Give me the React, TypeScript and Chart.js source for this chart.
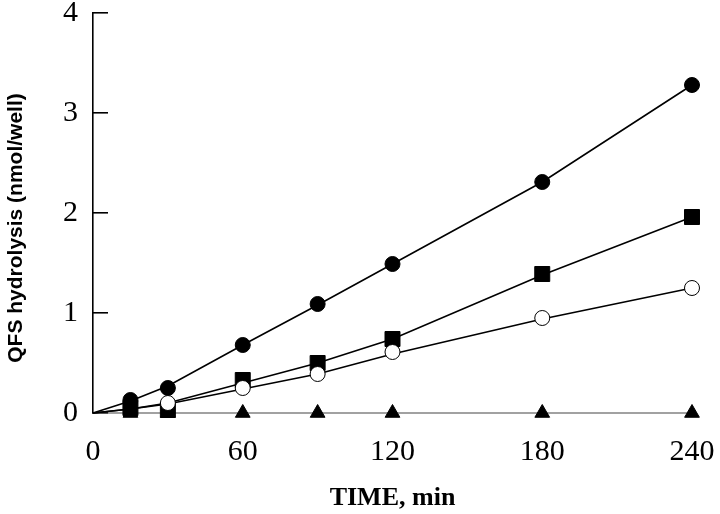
import React, { useEffect, useRef } from "react";
import { Chart, registerables } from "chart.js";

Chart.register(...registerables);

// Sample times (min)
const times = [15, 30, 60, 90, 120, 180, 240];
// Fitted curve node times (min)
const fitTimes = [0, 15, 30, 60, 90, 120, 180, 240];

// Measured values (nmol/well)
const filledCircles = [0.13, 0.25, 0.68, 1.09, 1.49, 2.31, 3.28];
const filledSquares = [0.05, 0.03, 0.33, 0.5, 0.74, 1.39, 1.96];
const openCircles = [null, 0.1, 0.25, 0.39, 0.61, 0.95, 1.25];
const triangles = [0, 0, 0, 0, 0, 0, 0];

// Fitted curves (nmol/well)
const filledCirclesFit = [0, 0.12, 0.27, 0.68, 1.08, 1.49, 2.31, 3.28];
const filledSquaresFit = [0, 0.04, 0.1, 0.3, 0.5, 0.74, 1.38, 1.96];
const openCirclesFit = [0, 0.04, 0.09, 0.24, 0.39, 0.59, 0.94, 1.25];
const trianglesFit = [0, 0, 0, 0, 0, 0, 0, 0];

const xTicks = [0, 60, 120, 180, 240];
const yTicks = [0, 1, 2, 3, 4];

const xTitle = "TIME, min";
const yTitle = "QFS hydrolysis (nmol/well)";

function pts(xs: number[], ys: (number | null)[]) {
  const out: { x: number; y: number }[] = [];
  xs.forEach((x, i) => {
    const y = ys[i];
    if (y !== null && y !== undefined) out.push({ x, y });
  });
  return out;
}

const yTitlePlugin = {
  id: "yTitlePlugin",
  afterDraw(chart: any) {
    const { ctx, chartArea } = chart;
    ctx.save();
    ctx.font = "bold 21px 'Liberation Sans', Arial, sans-serif";
    ctx.fillStyle = "#000";
    ctx.textAlign = "center";
    ctx.textBaseline = "middle";
    ctx.translate(16, (chartArea.top + chartArea.bottom) / 2 + 15);
    ctx.rotate(-Math.PI / 2);
    ctx.fillText(yTitle, 0, 0);
    ctx.restore();
  },
};

export default function App() {
  const ref = useRef<HTMLCanvasElement | null>(null);

  useEffect(() => {
    if (!ref.current) return;
    const lineBase = {
      showLine: true,
      pointRadius: 0,
      borderColor: "#000",
      backgroundColor: "#000",
      borderWidth: 1.6,
      tension: 0,
      clip: false as const,
    };
    const markBase = {
      showLine: false,
      borderColor: "#000",
      borderWidth: 1,
      clip: false as const,
    };
    const chart = new Chart(ref.current, {
      type: "scatter",
      data: {
        datasets: [
          {
            ...markBase,
            label: "open circles",
            data: pts(times, openCircles),
            pointStyle: "circle",
            pointRadius: 7.5,
            backgroundColor: "#fff",
          },
          {
            ...markBase,
            label: "filled squares",
            data: pts(times, filledSquares),
            pointStyle: "rect",
            pointRadius: 10.6,
            backgroundColor: "#000",
          },
          {
            ...markBase,
            label: "filled circles",
            data: pts(times, filledCircles),
            pointStyle: "circle",
            pointRadius: 7.5,
            backgroundColor: "#000",
          },
          {
            ...markBase,
            label: "triangles",
            data: pts(times, triangles),
            pointStyle: "triangle",
            pointRadius: 8.5,
            backgroundColor: "#000",
          },
          { ...lineBase, label: "fit filled circles", data: pts(fitTimes, filledCirclesFit) },
          { ...lineBase, label: "fit filled squares", data: pts(fitTimes, filledSquaresFit) },
          { ...lineBase, label: "fit open circles", data: pts(fitTimes, openCirclesFit) },
          {
            ...lineBase,
            label: "fit triangles",
            data: pts(fitTimes, trianglesFit),
            borderColor: "#444",
            borderWidth: 1.2,
          },
        ],
      },
      options: {
        responsive: false,
        animation: false,
        events: [],
        layout: { padding: { top: 13, right: 28, left: 0, bottom: 0 } },
        plugins: {
          legend: { display: false },
          tooltip: { enabled: false },
        },
        scales: {
          x: {
            type: "linear",
            min: 0,
            max: 240,
            afterFit(scale: any) {
              scale.height = 101;
              scale.paddingLeft = 0;
              scale.paddingRight = 0;
            },
            afterBuildTicks(scale: any) {
              scale.ticks = xTicks.map((v) => ({ value: v }));
            },
            border: { display: false },
            grid: { display: false, drawTicks: false },
            ticks: {
              padding: 21,
              color: "#000",
              font: { family: "'Liberation Serif', 'Times New Roman', serif", size: 30 },
              maxRotation: 0,
            },
            title: {
              display: true,
              text: xTitle,
              color: "#000",
              padding: { top: 0, bottom: 0 },
              font: {
                family: "'Liberation Serif', 'Times New Roman', serif",
                size: 26,
                weight: "bold",
              },
            },
          },
          y: {
            type: "linear",
            min: 0,
            max: 4,
            afterFit(scale: any) {
              scale.width = 93;
              scale.paddingTop = 0;
              scale.paddingBottom = 0;
            },
            afterBuildTicks(scale: any) {
              scale.ticks = yTicks.map((v) => ({ value: v }));
            },
            border: { display: true, color: "#000", width: 1.6 },
            grid: {
              drawOnChartArea: false,
              drawTicks: true,
              tickLength: -15,
              color: "#000",
              lineWidth: 1.6,
            },
            ticks: {
              padding: 30,
              color: "#000",
              font: { family: "'Liberation Serif', 'Times New Roman', serif", size: 30 },
            },
          },
        },
      },
      plugins: [yTitlePlugin],
    });
    return () => chart.destroy();
  }, []);

  return (
    <div style={{ position: "absolute", left: 0, top: 0, width: 720, height: 514, background: "#fff" }}>
      <canvas ref={ref} width={720} height={514} style={{ display: "block" }} />
    </div>
  );
}
